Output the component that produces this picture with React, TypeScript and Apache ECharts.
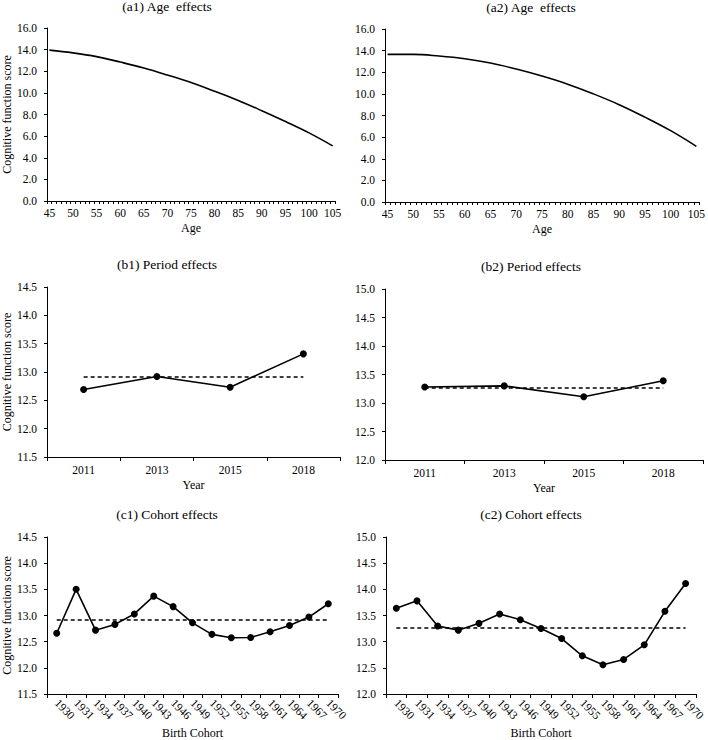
import React, { useEffect, useRef } from "react";
import * as echarts from "echarts";

// ---------- data ----------
const ages = [45, 50, 55, 60, 65, 70, 75, 80, 85, 90, 95, 100, 105];
const ageEffects1 = [13.95, 13.7, 13.35, 12.85, 12.3, 11.65, 10.95, 10.15, 9.3, 8.35, 7.35, 6.3, 5.1];
const ageEffects2 = [13.65, 13.65, 13.5, 13.25, 12.85, 12.3, 11.65, 10.9, 10.0, 9.0, 7.85, 6.6, 5.15];

const years = ["2011", "2013", "2015", "2018"];
const periodEffects1 = [12.69, 12.92, 12.73, 13.32];
const periodEffects2 = [13.28, 13.3, 13.11, 13.39];
const periodMean1 = 12.92;
const periodMean2 = 13.27;

const cohorts = ["1930", "1931", "1934", "1937", "1940", "1943", "1946", "1949", "1952", "1955", "1958", "1961", "1964", "1967", "1970"];
const cohortEffects1 = [12.66, 13.5, 12.72, 12.83, 13.03, 13.37, 13.17, 12.86, 12.64, 12.575, 12.58, 12.69, 12.81, 12.97, 13.225];
const cohortEffects2 = [13.64, 13.78, 13.3, 13.22, 13.35, 13.53, 13.42, 13.25, 13.06, 12.73, 12.56, 12.66, 12.94, 13.58, 14.11];
const cohortMean1 = 12.91;
const cohortMean2 = 13.27;

const ageLabelTicks = [45, 50, 55, 60, 65, 70, 75, 80, 85, 90, 95, 100, 105];
const yNameText = "Cognitive function score";

const FONT = "Liberation Serif";
const INK = "#000";

export default function App() {
  const ref = useRef<HTMLDivElement>(null);

  useEffect(() => {
    if (!ref.current) return;
    const chart = echarts.init(ref.current, undefined, { renderer: "svg" });

    const ageTickValues: number[] = [];
    for (let v = 44.5; v <= 105.5; v += 1) ageTickValues.push(v);

    const grids = [
      { left: 43, top: 28, width: 292, height: 173 },
      { left: 385, top: 29, width: 314, height: 173 },
      { left: 43, top: 287, width: 297, height: 170 },
      { left: 385, top: 289, width: 318, height: 171 },
      { left: 43, top: 537, width: 295, height: 160 },
      { left: 386, top: 537, width: 317, height: 160 },
    ];

    const axisLine = { show: true, lineStyle: { color: INK, width: 1 } };
    const labelStyle = { color: INK, fontFamily: FONT, fontSize: 11.5 };
    const nameStyle = { color: INK, fontFamily: FONT, fontSize: 12 };

    const yAxisBase = (i: number, min: number, max: number, interval: number, named: boolean) => ({
      type: "value",
      gridIndex: i,
      min,
      max,
      interval,
      axisLine,
      axisTick: { show: true, inside: false, length: 3, lineStyle: { color: INK } },
      splitLine: { show: false },
      axisLabel: { ...labelStyle, margin: 10, formatter: (v: number) => v.toFixed(1) },
      name: named ? yNameText : "",
      nameLocation: "middle",
      nameGap: 30,
      nameTextStyle: nameStyle,
    });

    const ageXAxis = (i: number) => ({
      type: "value",
      gridIndex: i,
      min: 44.5,
      max: 105.5,
      axisLine,
      axisTick: { show: true, length: 3, customValues: ageTickValues, lineStyle: { color: INK } },
      axisLabel: { ...labelStyle, margin: 6, customValues: ageLabelTicks },
      splitLine: { show: false },
      name: "Age",
      nameLocation: "middle",
      nameGap: 21,
      nameTextStyle: nameStyle,
    });

    const catXAxis = (i: number, data: string[], name: string, rotate: number, gap: number) => ({
      type: "category",
      gridIndex: i,
      data,
      boundaryGap: true,
      axisLine,
      axisTick: { show: true, length: 4, alignWithLabel: false, lineStyle: { color: INK } },
      axisLabel: { ...labelStyle, margin: 7, interval: 0, rotate },
      splitLine: { show: false },
      name,
      nameLocation: "middle",
      nameGap: gap,
      nameTextStyle: nameStyle,
    });

    const ageSeries = (i: number, values: number[]) => ({
      type: "line",
      xAxisIndex: i,
      yAxisIndex: i,
      data: ages.map((a, k) => [a, values[k]]),
      smooth: 0.4,
      showSymbol: false,
      symbol: "none",
      lineStyle: { color: INK, width: 1.6 },
    });

    const pointSeries = (i: number, cats: string[], values: number[], mean: number) => ({
      type: "line",
      xAxisIndex: i,
      yAxisIndex: i,
      data: values,
      symbol: "circle",
      symbolSize: 7,
      itemStyle: { color: INK },
      lineStyle: { color: INK, width: 1.6 },
      markLine: {
        silent: true,
        symbol: "none",
        label: { show: false },
        lineStyle: { color: INK, width: 1.6, type: [4, 3] },
        data: [[{ coord: [cats[0], mean] }, { coord: [cats[cats.length - 1], mean] }]],
      },
    });

    const titleText = (text: string, x: number, y: number) => ({
      type: "text",
      x,
      y,
      style: {
        text,
        fill: INK,
        fontFamily: FONT,
        fontSize: 13.5,
        textAlign: "center",
        textVerticalAlign: "middle",
      },
    });

    chart.setOption({
      animation: false,
      backgroundColor: "#fff",
      grid: grids.map((g) => ({ ...g, containLabel: false })),
      xAxis: [
        ageXAxis(0),
        ageXAxis(1),
        catXAxis(2, years, "Year", 0, 22),
        catXAxis(3, years, "Year", 0, 22),
        catXAxis(4, cohorts, "Birth Cohort", -45, 33),
        catXAxis(5, cohorts, "Birth Cohort", -45, 33),
      ],
      yAxis: [
        yAxisBase(0, 0, 16, 2, true),
        yAxisBase(1, 0, 16, 2, false),
        yAxisBase(2, 11.5, 14.5, 0.5, true),
        yAxisBase(3, 12, 15, 0.5, false),
        yAxisBase(4, 11.5, 14.5, 0.5, true),
        yAxisBase(5, 12, 15, 0.5, false),
      ],
      series: [
        ageSeries(0, ageEffects1),
        ageSeries(1, ageEffects2),
        pointSeries(2, years, periodEffects1, periodMean1),
        pointSeries(3, years, periodEffects2, periodMean2),
        pointSeries(4, cohorts, cohortEffects1, cohortMean1),
        pointSeries(5, cohorts, cohortEffects2, cohortMean2),
      ],
      graphic: [
        titleText("(a1) Age  effects", 167, 6),
        titleText("(a2) Age  effects", 531, 7),
        titleText("(b1) Period effects", 167, 264),
        titleText("(b2) Period effects", 531, 266),
        titleText("(c1) Cohort effects", 167, 514),
        titleText("(c2) Cohort effects", 531, 514),
      ],
    });

    return () => chart.dispose();
  }, []);

  return (
    <div
      ref={ref}
      style={{ position: "absolute", left: 0, top: 0, width: 708, height: 740, background: "#fff" }}
    />
  );
}
